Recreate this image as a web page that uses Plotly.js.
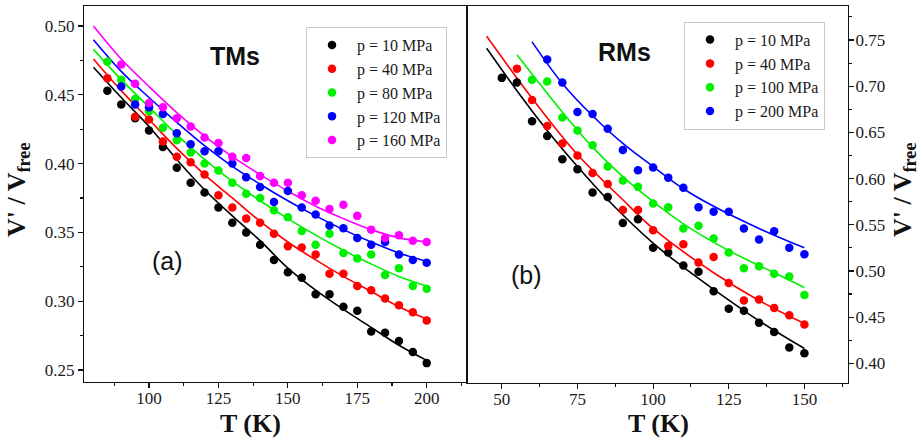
<!DOCTYPE html>
<html>
<head>
<meta charset="utf-8">
<script src="https://cdn.plot.ly/plotly-3.0.1.min.js"></script>
<style>html,body{margin:0;padding:0;background:#fff;}#chart{width:920px;height:445px;}</style>
</head>
<body>
<div id="chart"></div>
<script>
// ---------- Panel (a): TMs ----------
const tmNames = ["p = 10 MPa", "p = 40 MPa", "p = 80 MPa", "p = 120 MPa", "p = 160 MPa"];
const tmT10  = [85,90,95,100,105,110,115,120,125,130,135,140,145,150,155,160,165,170,175,180,185,190,195,200];
const tmV10  = [0.453,0.443,0.433,0.424,0.412,0.397,0.386,0.379,0.368,0.357,0.350,0.341,0.330,0.321,0.317,0.305,0.305,0.296,0.293,0.278,0.277,0.271,0.263,0.255];
const tmT40  = [85,95,100,105,110,115,120,125,130,135,140,145,150,155,160,165,170,175,180,185,190,195,200];
const tmV40  = [0.462,0.434,0.432,0.416,0.405,0.401,0.392,0.377,0.368,0.360,0.357,0.349,0.340,0.339,0.334,0.320,0.320,0.311,0.308,0.302,0.297,0.292,0.286];
const tmT80  = [85,90,95,100,105,110,115,120,125,130,135,140,145,150,155,160,165,170,175,180,185,190,195,200];
const tmV80  = [0.474,0.461,0.447,0.438,0.426,0.417,0.408,0.400,0.395,0.386,0.378,0.375,0.366,0.361,0.351,0.341,0.349,0.335,0.331,0.334,0.319,0.324,0.311,0.309];
const tmT120 = [90,95,100,105,110,115,120,125,130,135,140,145,150,155,160,165,170,175,180,185,190,195,200];
const tmV120 = [0.456,0.443,0.441,0.436,0.422,0.414,0.409,0.409,0.400,0.390,0.383,0.372,0.380,0.368,0.363,0.355,0.353,0.346,0.341,0.343,0.334,0.330,0.328];
const tmT160 = [90,95,100,105,110,115,120,125,130,135,140,145,150,155,160,165,170,175,180,185,190,195,200];
const tmV160 = [0.472,0.458,0.444,0.441,0.433,0.427,0.419,0.415,0.405,0.404,0.391,0.386,0.386,0.377,0.373,0.367,0.370,0.362,0.352,0.346,0.348,0.344,0.343];

// fitted curves
const tmFitT    = [80,90,100,110,120,130,140,150,160,170,180,190,200];
const tmFit10   = [0.470,0.448,0.427,0.403,0.381,0.362,0.344,0.324,0.308,0.294,0.281,0.268,0.257];
const tmFit40   = [0.476,0.453,0.432,0.411,0.392,0.375,0.358,0.343,0.330,0.318,0.307,0.296,0.287];
const tmFit80   = [0.483,0.461,0.441,0.421,0.403,0.387,0.373,0.360,0.348,0.337,0.327,0.318,0.311];
const tmFit120  = [0.490,0.467,0.448,0.430,0.413,0.398,0.385,0.373,0.362,0.352,0.343,0.335,0.329];
const tmFit160  = [0.500,0.476,0.456,0.437,0.420,0.405,0.392,0.380,0.369,0.360,0.352,0.346,0.343];

// ---------- Panel (b): RMs ----------
const rmNames = ["p = 10 MPa", "p = 40 MPa", "p = 100 MPa", "p = 200 MPa"];
const rmT10  = [50,55,60,65,70,75,80,85,90,95,100,105,110,115,120,125,130,135,140,145,150];
const rmV10  = [0.709,0.704,0.662,0.646,0.621,0.610,0.585,0.580,0.552,0.556,0.525,0.520,0.506,0.499,0.478,0.459,0.457,0.444,0.434,0.417,0.411];
const rmT40  = [55,60,65,70,75,80,85,90,95,100,105,110,115,120,125,130,135,140,145,150];
const rmV40  = [0.719,0.685,0.657,0.638,0.625,0.606,0.594,0.566,0.566,0.544,0.527,0.529,0.509,0.515,0.487,0.468,0.469,0.460,0.452,0.442];
const rmT100 = [60,65,70,75,80,85,90,95,100,105,110,115,120,125,130,135,140,145,150];
const rmV100 = [0.707,0.705,0.666,0.652,0.636,0.613,0.598,0.591,0.573,0.569,0.546,0.549,0.535,0.520,0.503,0.505,0.497,0.494,0.474];
const rmT200 = [65,70,75,80,85,90,95,100,105,110,115,120,125,130,135,140,145,150];
const rmV200 = [0.729,0.704,0.672,0.670,0.654,0.631,0.609,0.612,0.601,0.590,0.569,0.564,0.564,0.546,0.534,0.543,0.525,0.518];

const rmFitT10  = [45,55,65,75,85,100,110,120,135,150];
const rmFit10   = [0.741,0.695,0.652,0.613,0.577,0.530,0.504,0.480,0.446,0.416];
const rmFitT40  = [45,60,75,90,100,120,135,150];
const rmFit40   = [0.754,0.687,0.626,0.577,0.546,0.498,0.468,0.443];
const rmFitT100 = [55,70,80,90,100,110,125,140,150];
const rmFit100  = [0.734,0.672,0.634,0.602,0.575,0.551,0.522,0.498,0.482];
const rmFitT200 = [60,70,80,90,100,110,120,135,150];
const rmFit200  = [0.748,0.703,0.668,0.638,0.613,0.589,0.570,0.546,0.525];

const tmColors = ["#000000", "#ff0000", "#00f000", "#0000ff", "#ff00ff"];
const rmColors = ["#000000", "#ff0000", "#00f000", "#0000ff"];

const W = 920, H = 445;
const px = x => x / W;
const py = y => 1 - y / H;

const traces = [];
function fit(x, y, color, xa, ya) {
  traces.push({x: x, y: y, mode: "lines", line: {color: color, width: 1.6, shape: "spline", smoothing: 1},
    xaxis: xa, yaxis: ya, showlegend: false, hoverinfo: "skip"});
}
function pts(x, y, color, name, xa, ya, lg) {
  traces.push({x: x, y: y, mode: "markers", name: name, marker: {color: color, size: 8.5},
    xaxis: xa, yaxis: ya, legend: lg});
}
const tmT = [tmT10, tmT40, tmT80, tmT120, tmT160];
const tmV = [tmV10, tmV40, tmV80, tmV120, tmV160];
const tmF = [tmFit10, tmFit40, tmFit80, tmFit120, tmFit160];
for (let i = 0; i < 5; i++) fit(tmFitT, tmF[i], tmColors[i], "x", "y");
for (let i = 0; i < 5; i++) pts(tmT[i], tmV[i], tmColors[i], tmNames[i], "x", "y", "legend");

const rmT = [rmT10, rmT40, rmT100, rmT200];
const rmV = [rmV10, rmV40, rmV100, rmV200];
const rmFT = [rmFitT10, rmFitT40, rmFitT100, rmFitT200];
const rmF = [rmFit10, rmFit40, rmFit100, rmFit200];
for (let i = 0; i < 4; i++) fit(rmFT[i], rmF[i], rmColors[i], "x2", "y2");
for (let i = 0; i < 4; i++) pts(rmT[i], rmV[i], rmColors[i], rmNames[i], "x2", "y2", "legend2");

const serif = "Liberation Serif, Times New Roman, serif";
const sans = "Liberation Sans, Arial, sans-serif";
const tickFont = {family: serif, size: 17, color: "#1a1a1a"};
const minorX = {dtick: 12.5, ticks: "outside", ticklen: 3, tickwidth: 1.1, tickcolor: "#111"};
const minorY = {dtick: 0.025, ticks: "outside", ticklen: 3, tickwidth: 1.1, tickcolor: "#111"};

function axisBase(extra) {
  return Object.assign({
    showline: true, linecolor: "#111", linewidth: 1.3, mirror: true,
    ticks: "outside", ticklen: 5, tickwidth: 1.2, tickcolor: "#111",
    showgrid: false, zeroline: false, tickfont: tickFont
  }, extra);
}

const layout = {
  width: W, height: H,
  margin: {l: 0, r: 0, t: 0, b: 0},
  paper_bgcolor: "#fff", plot_bgcolor: "#fff",
  showlegend: true,
  xaxis: axisBase({domain: [px(84.3), px(466.7)], range: [76.7, 214.4], tick0: 0, dtick: 25,
    minor: minorX, anchor: "y", ticklabelstandoff: -4}),
  yaxis: axisBase({domain: [py(381.7), py(6)], range: [0.2415, 0.5145], tick0: 0, dtick: 0.05, tickformat: ".2f",
    minor: minorY, anchor: "x", side: "left"}),
  xaxis2: axisBase({domain: [px(467), px(847.7)], range: [38.5, 164.3], tick0: 0, dtick: 25,
    minor: minorX, anchor: "y2", ticklabelstandoff: -4}),
  yaxis2: axisBase({domain: [py(382.7), py(6)], range: [0.379, 0.7868], tick0: 0, dtick: 0.05, tickformat: ".2f",
    minor: minorY, anchor: "x2", side: "right", ticklabelstandoff: -2}),
  legend: {x: px(306), y: py(27), xanchor: "left", yanchor: "top", bgcolor: "#fff", itemwidth: 40,
    bordercolor: "#c8c8c8", borderwidth: 1, font: {family: serif, size: 16, color: "#1a1a1a"}, tracegroupgap: 0},
  legend2: {x: px(684), y: py(21.7), xanchor: "left", yanchor: "top", bgcolor: "#fff", itemwidth: 40,
    bordercolor: "#c8c8c8", borderwidth: 1, font: {family: serif, size: 16, color: "#1a1a1a"}, tracegroupgap: 0},
  annotations: [
    {text: "<b>TMs</b>", x: px(235), y: py(56), font: {family: sans, size: 25, color: "#111"}},
    {text: "<b>RMs</b>", x: px(624), y: py(52), font: {family: sans, size: 25, color: "#111"}},
    {text: "(a)", x: px(167), y: py(261), font: {family: sans, size: 25, color: "#111"}},
    {text: "(b)", x: px(526), y: py(275), font: {family: sans, size: 25, color: "#111"}},
    {text: "<b>T (K)</b>", x: px(251), y: py(423), font: {family: serif, size: 26, color: "#111"}},
    {text: "<b>T (K)</b>", x: px(658), y: py(423), font: {family: serif, size: 26, color: "#111"}},
    {text: "<b>V' / V<sub>free</sub></b>", x: px(18), y: py(190), textangle: -90,
      font: {family: serif, size: 26, color: "#111"}},
    {text: "<b>V' / V<sub>free</sub></b>", x: px(904), y: py(190), textangle: -90,
      font: {family: serif, size: 26, color: "#111"}}
  ].map(a => Object.assign({xref: "paper", yref: "paper", showarrow: false, xanchor: "center", yanchor: "middle"}, a))
};

Plotly.newPlot("chart", traces, layout, {displayModeBar: false, staticPlot: true});
</script>
</body>
</html>
